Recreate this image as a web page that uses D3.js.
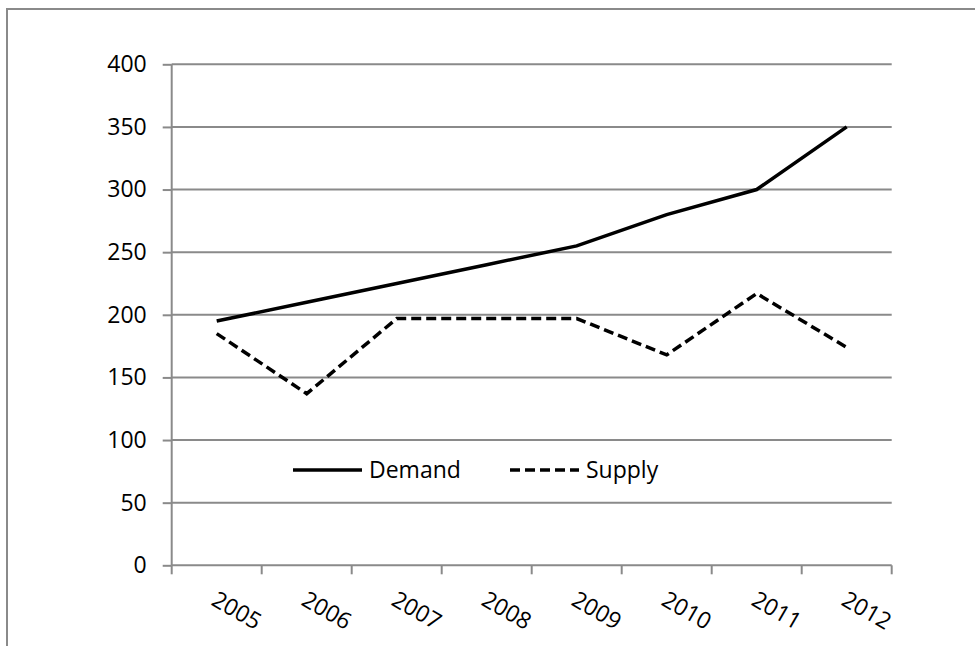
<!DOCTYPE html>
<html>
<head>
<meta charset="utf-8">
<script src="https://cdn.jsdelivr.net/npm/d3@7"></script>
<style>
  body { margin: 0; background: #fff; }
  text { font-family: "Open Sans", sans-serif; fill: #000; }
</style>
</head>
<body>
<div id="linechart"></div>
<script>

// chart data
var years = ["2005", "2006", "2007", "2008", "2009", "2010", "2011", "2012"];
var demand = [195, 210, 225, 240, 255, 280, 300, 350];
var supply = [185, 137, 197, 197, 197, 168, 217, 174];
var yTicks = [0, 50, 100, 150, 200, 250, 300, 350, 400];
var seriesNames = ["Demand", "Supply"];

function createLineChart(){

  var W = 975, H = 646;
  var margin = {top: 64.3, left: 171.7},
      width = 720,
      height = 501;

  var svg = d3.select("#linechart").append("svg")
      .attr("width", W)
      .attr("height", H);

  // outer frame (only left and top edges are visible)
  svg.append("path")
      .attr("d", "M7,660V9H990")
      .attr("fill", "none")
      .attr("stroke", "#8a8a8a")
      .attr("stroke-width", 2);

  var g = svg.append("g")
      .attr("transform", "translate(" + margin.left + "," + margin.top + ")");

  // set the ranges
  var x = d3.scaleBand().domain(years).range([0, width]);
  var y = d3.scaleLinear().domain([0, 400]).range([height, 0]);

  // gridlines
  g.selectAll(".grid")
      .data(yTicks.slice(1))
    .enter().append("line")
      .attr("x1", 0)
      .attr("x2", width)
      .attr("y1", function(d) { return y(d); })
      .attr("y2", function(d) { return y(d); })
      .attr("stroke", "#8a8a8a")
      .attr("stroke-width", 2);

  // Y axis
  var yAxis = g.append("g")
      .call(d3.axisLeft(y).tickValues(yTicks).tickSize(9).tickPadding(16));
  yAxis.selectAll("line, path").attr("stroke", "#8a8a8a").attr("stroke-width", 2);
  yAxis.select(".domain").attr("d", "M0," + y(0) + "V" + y(400));
  yAxis.selectAll("text")
      .style("font-size", "23px")
      .style("font-family", "Open Sans, sans-serif")
      .attr("fill", "#000");

  // X axis with ticks on band boundaries
  var xAxis = g.append("g")
      .attr("transform", "translate(0," + height + ")");
  xAxis.append("line")
      .attr("x1", 0).attr("x2", width)
      .attr("stroke", "#8a8a8a").attr("stroke-width", 2);
  xAxis.selectAll(".tick")
      .data(years.concat(["end"]))
    .enter().append("line")
      .attr("x1", function(d, i) { return i * x.bandwidth(); })
      .attr("x2", function(d, i) { return i * x.bandwidth(); })
      .attr("y1", 0).attr("y2", 9)
      .attr("stroke", "#8a8a8a").attr("stroke-width", 2);
  xAxis.selectAll(".lbl")
      .data(years)
    .enter().append("text")
      .attr("transform", function(d) {
        return "translate(" + (x(d) + x.bandwidth() / 2 + 20) + ",45)rotate(30)";
      })
      .attr("text-anchor", "middle")
      .attr("dy", "0.35em")
      .style("font-size", "23px")
      .text(function(d) { return d; });

  // lines
  var valueline = d3.line()
      .x(function(d, i) { return x(years[i]) + x.bandwidth() / 2; })
      .y(function(d) { return y(d); });

  g.append("path")
      .datum(demand)
      .attr("fill", "none")
      .attr("stroke", "#000")
      .attr("stroke-width", 3.5)
      .attr("d", valueline);

  g.append("path")
      .datum(supply)
      .attr("fill", "none")
      .attr("stroke", "#000")
      .attr("stroke-width", 3.5)
      .attr("stroke-dasharray", "10,5")
      .attr("d", valueline);

  // legend
  var legend = svg.append("g").attr("transform", "translate(0,470)");
  var legX = [293, 510];
  seriesNames.forEach(function(name, i) {
    legend.append("line")
        .attr("x1", legX[i]).attr("x2", legX[i] + 69)
        .attr("stroke", "#000")
        .attr("stroke-width", 3.5)
        .attr("stroke-dasharray", i === 1 ? "10,5" : null);
    legend.append("text")
        .attr("x", legX[i] + 76)
        .attr("dy", "0.35em")
        .style("font-size", "23px")
        .text(name);
  });
}

createLineChart();
</script>
</body>
</html>
